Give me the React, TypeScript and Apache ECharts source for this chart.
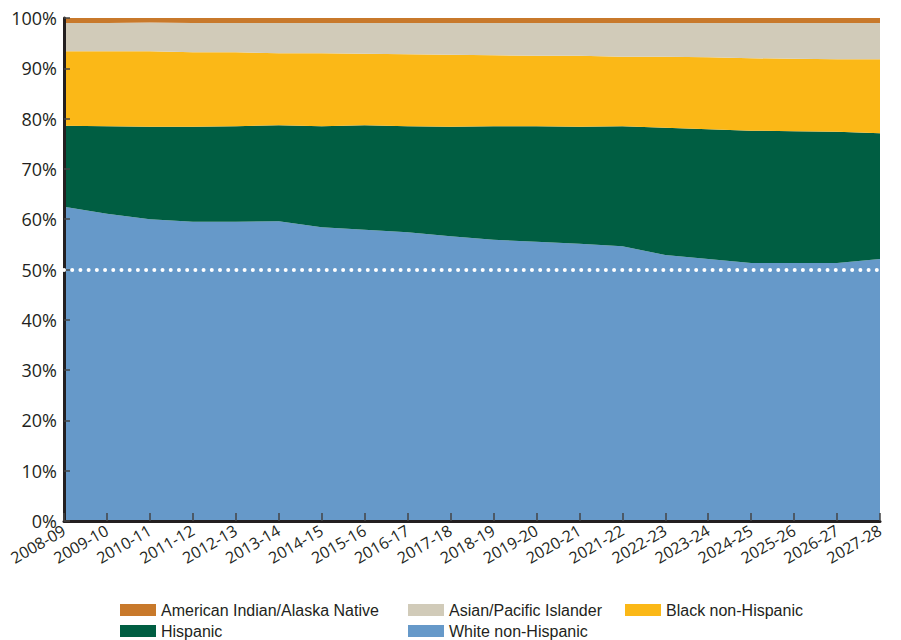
import React, { useEffect, useRef } from "react";
import * as echarts from "echarts";

const categories = [
  "2008-09", "2009-10", "2010-11", "2011-12", "2012-13", "2013-14", "2014-15",
  "2015-16", "2016-17", "2017-18", "2018-19", "2019-20", "2020-21", "2021-22",
  "2022-23", "2023-24", "2024-25", "2025-26", "2026-27", "2027-28",
];

const whiteNonHispanic = [62.5, 61.1, 60.0, 59.5, 59.5, 59.6, 58.4, 57.9, 57.4, 56.6, 55.9, 55.5, 55.1, 54.6, 52.9, 52.1, 51.3, 51.3, 51.3, 52.1];
const hispanic = [16.1, 17.4, 18.4, 18.9, 19.0, 19.1, 20.1, 20.8, 21.1, 21.8, 22.6, 23.0, 23.3, 23.9, 25.3, 25.8, 26.3, 26.2, 26.1, 25.0];
const blackNonHispanic = [14.8, 14.9, 15.0, 14.8, 14.7, 14.3, 14.5, 14.2, 14.3, 14.3, 14.1, 14.0, 14.1, 13.8, 14.1, 14.3, 14.4, 14.4, 14.4, 14.7];
const asianPacificIslander = [5.6, 5.6, 5.7, 5.8, 5.8, 6.0, 6.0, 6.1, 6.2, 6.3, 6.4, 6.5, 6.5, 6.7, 6.7, 6.8, 7.0, 7.1, 7.2, 7.2];
const americanIndian = [1.0, 1.0, 1.0, 1.0, 1.0, 1.0, 1.0, 1.0, 1.0, 1.0, 1.0, 1.0, 1.0, 1.0, 1.0, 1.0, 1.0, 1.0, 1.0, 1.0];

const yTicks = { min: 0, max: 100, interval: 10 };
const referenceLine = 50;

const COLORS = {
  white: "#6699c9",
  hispanic: "#005e42",
  black: "#fbb817",
  asian: "#d1cbb9",
  ai: "#c8792b",
};

const TEXT = "#231f20";
const AXIS_FONT = "'Open Sans', 'Noto Sans', sans-serif";
const LEGEND_FONT = "'Liberation Sans Narrow', 'Liberation Sans', Arial, sans-serif";

export default function App() {
  const ref = useRef<HTMLDivElement>(null);

  useEffect(() => {
    if (!ref.current) return;
    const chart = echarts.init(ref.current, undefined, { renderer: "svg" });

    const area = (name: string, data: number[], color: string, extra: any = {}) => ({
      name,
      type: "line",
      stack: "total",
      data,
      symbol: "none",
      smooth: false,
      lineStyle: { width: 0, color },
      itemStyle: { color },
      areaStyle: { color, opacity: 1 },
      emphasis: { disabled: true },
      ...extra,
    });

    const legendText = { color: TEXT, fontSize: 16, fontFamily: LEGEND_FONT };
    const legendItem = (name: string, left: number, top: number) => ({
      orient: "horizontal",
      icon: "rect",
      itemWidth: 36,
      itemHeight: 12,
      textStyle: legendText,
      selectedMode: false,
      left,
      top,
      data: [name],
    });

    chart.setOption({
      animation: false,
      backgroundColor: "#ffffff",
      grid: { left: 64, right: 21, top: 18, bottom: 119, containLabel: false },
      xAxis: {
        type: "category",
        data: categories,
        boundaryGap: false,
        axisLine: { show: true, lineStyle: { color: TEXT, width: 3 } },
        axisTick: { show: true, inside: true, length: 8, lineStyle: { color: "#444", width: 1.5 } },
        axisLabel: {
          interval: 0,
          rotate: 30,
          margin: 8,
          color: TEXT,
          fontSize: 16,
          fontFamily: AXIS_FONT,
        },
        splitLine: { show: false },
        z: 10,
      },
      yAxis: {
        type: "value",
        min: yTicks.min,
        max: yTicks.max,
        interval: yTicks.interval,
        axisLine: { show: true, lineStyle: { color: TEXT, width: 3 } },
        axisTick: { show: true, inside: true, length: 6, lineStyle: { color: "#444", width: 1.5 } },
        axisLabel: {
          formatter: "{value}%",
          color: TEXT,
          fontSize: 18,
          fontFamily: AXIS_FONT,
          margin: 7,
        },
        splitLine: { show: false },
        z: 10,
      },
      legend: [
        legendItem("American Indian/Alaska Native", 115, 597),
        legendItem("Asian/Pacific Islander", 403, 597),
        legendItem("Black non-Hispanic", 620, 597),
        legendItem("Hispanic", 115, 618),
        legendItem("White non-Hispanic", 403, 618),
      ],
      series: [
        area("White non-Hispanic", whiteNonHispanic, COLORS.white, {
          markLine: {
            silent: true,
            symbol: ["none", "none"],
            label: { show: false },
            lineStyle: { color: "#ffffff", width: 4, type: [0.01, 8.2], cap: "round" },
            data: [{ yAxis: referenceLine }],
            z: 20,
          },
        }),
        area("Hispanic", hispanic, COLORS.hispanic),
        area("Black non-Hispanic", blackNonHispanic, COLORS.black),
        area("Asian/Pacific Islander", asianPacificIslander, COLORS.asian),
        area("American Indian/Alaska Native", americanIndian, COLORS.ai),
      ],
    });

    return () => chart.dispose();
  }, []);

  return <div ref={ref} style={{ width: 901, height: 640, position: "absolute", left: 0, top: 0 }} />;
}
